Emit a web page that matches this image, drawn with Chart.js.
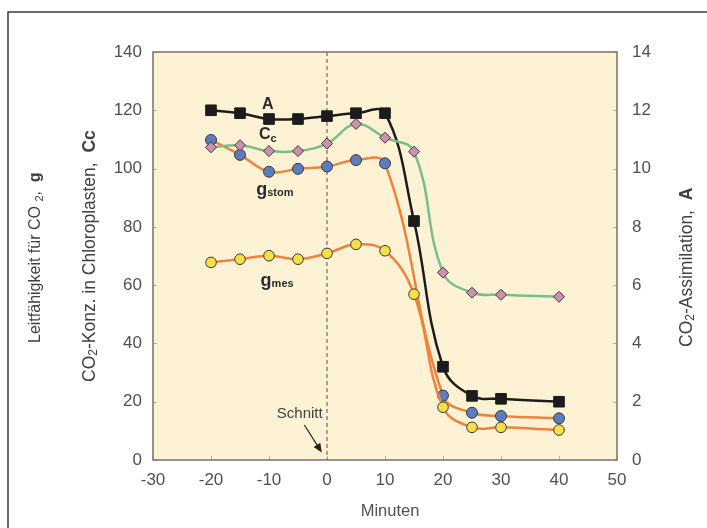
<!DOCTYPE html>
<html>
<head>
<meta charset="utf-8">
<script src="https://cdn.jsdelivr.net/npm/chart.js@4/dist/chart.umd.min.js"></script>
<style>
  html, body { margin: 0; padding: 0; background: #ffffff; }
  #wrap { position: relative; width: 707px; height: 528px; }
</style>
</head>
<body>
<div id="wrap"><canvas id="c" width="707" height="528"></canvas></div>
<script>
// Sampling times (minutes relative to the cut)
const minutes = [-20, -15, -10, -5, 0, 5, 10, 15, 20, 25, 30, 40];
// CO2 assimilation A (right axis, µmol m-2 s-1)
const assimilationA = [12.0, 11.9, 11.7, 11.7, 11.8, 11.9, 11.9, 8.2, 3.2, 2.2, 2.1, 2.0];
// Chloroplast CO2 concentration Cc (left axis)
const ccValues = [107.3, 108.0, 106.0, 106.0, 108.6, 115.3, 110.6, 105.8, 64.3, 57.4, 56.7, 56.0];
// Stomatal conductance g_stom (no sample at 15 min)
const gstomMinutes = [-20, -15, -10, -5, 0, 5, 10, 20, 25, 30, 40];
const gstomValues = [109.8, 104.7, 98.9, 99.9, 100.7, 102.9, 101.8, 22.1, 16.2, 15.1, 14.3];
// Mesophyll conductance g_mes
const gmesValues = [67.8, 68.9, 70.1, 68.9, 70.9, 74.0, 71.8, 56.9, 18.1, 11.2, 11.2, 10.3];
// Axis ranges / tick labels
const xTicks = [-30, -20, -10, 0, 10, 20, 30, 40, 50];
const leftTicks = [0, 20, 40, 60, 80, 100, 120, 140];
const rightTicks = [0, 2, 4, 6, 8, 10, 12, 14];

const pairs = (xs, ys) => xs.map((x, i) => ({ x, y: ys[i] }));

const FONT = '"Liberation Sans", Arial, sans-serif';
const TXT = '#505050';

// Draw a run of differently styled text pieces, optionally rotated
function drawRich(ctx, segs, x, y, opts) {
  opts = opts || {};
  ctx.save();
  ctx.translate(x, y);
  if (opts.rotate) ctx.rotate(opts.rotate);
  let total = 0;
  const widths = segs.map(s => { ctx.font = s.font; const w = ctx.measureText(s.text).width; total += w; return w; });
  let cx = opts.align === 'center' ? -total / 2 : (opts.align === 'right' ? -total : 0);
  ctx.textBaseline = 'middle';
  ctx.textAlign = 'left';
  segs.forEach((s, i) => {
    ctx.font = s.font;
    ctx.fillStyle = s.color || opts.color || TXT;
    ctx.fillText(s.text, cx, s.dy || 0);
    cx += widths[i];
  });
  ctx.restore();
}

const decor = {
  id: 'decor',
  beforeDraw(chart) {
    const { ctx, chartArea: a, scales } = chart;
    ctx.save();
    ctx.fillStyle = '#ffffff';
    ctx.fillRect(0, 0, chart.width, chart.height);
    // outer frame
    ctx.strokeStyle = '#3c3c3c';
    ctx.lineWidth = 1.5;
    ctx.beginPath();
    ctx.moveTo(8, chart.height);
    ctx.lineTo(8, 12);
    ctx.lineTo(chart.width, 12);
    ctx.stroke();
    // plot background
    ctx.fillStyle = '#fdf3d4';
    ctx.fillRect(a.left, a.top, a.right - a.left, a.bottom - a.top);
    // small inside tick marks
    ctx.strokeStyle = '#b8b0a0';
    ctx.lineWidth = 1;
    ctx.beginPath();
    xTicks.forEach(v => {
      const px = Math.round(scales.x.getPixelForValue(v)) + 0.5;
      ctx.moveTo(px, a.bottom); ctx.lineTo(px, a.bottom - 4);
    });
    leftTicks.forEach(v => {
      const py = Math.round(scales.y.getPixelForValue(v)) + 0.5;
      ctx.moveTo(a.left, py); ctx.lineTo(a.left + 4, py);
    });
    rightTicks.forEach(v => {
      const py = Math.round(scales.y1.getPixelForValue(v)) + 0.5;
      ctx.moveTo(a.right, py); ctx.lineTo(a.right - 4, py);
    });
    ctx.stroke();
    // dashed marker at the time of the cut
    const x0 = scales.x.getPixelForValue(0);
    ctx.strokeStyle = '#8a8580';
    ctx.lineWidth = 1.5;
    ctx.setLineDash([4, 3]);
    ctx.beginPath();
    ctx.moveTo(x0, a.top);
    ctx.lineTo(x0, a.bottom);
    ctx.stroke();
    ctx.setLineDash([]);
    ctx.restore();
  },
  afterDraw(chart) {
    const { ctx, chartArea: a, scales } = chart;
    const sx = scales.x, sy = scales.y;
    ctx.save();
    // plot border
    ctx.strokeStyle = '#7a7266';
    ctx.lineWidth = 1.5;
    ctx.strokeRect(a.left, a.top, a.right - a.left, a.bottom - a.top);

    // series labels
    const B = (s) => 'bold ' + s + 'px ' + FONT;
    drawRich(ctx, [{ text: 'A', font: B(16) }], sx.getPixelForValue(-10.2), sy.getPixelForValue(122.0), { align: 'center', color: '#2a2a2a' });
    drawRich(ctx, [{ text: 'C', font: B(16) }, { text: 'c', font: B(11), dy: 4 }], sx.getPixelForValue(-10.2), sy.getPixelForValue(111.5), { align: 'center', color: '#2a2a2a' });
    drawRich(ctx, [{ text: 'g', font: B(18) }, { text: 'stom', font: B(11), dy: 3 }], sx.getPixelForValue(-9.0), sy.getPixelForValue(92.5), { align: 'center', color: '#2a2a2a' });
    drawRich(ctx, [{ text: 'g', font: B(18) }, { text: 'mes', font: B(11), dy: 3 }], sx.getPixelForValue(-8.6), sy.getPixelForValue(61.3), { align: 'center', color: '#2a2a2a' });

    // "Schnitt" with arrow pointing at the cut
    drawRich(ctx, [{ text: 'Schnitt', font: '15px ' + FONT }], sx.getPixelForValue(-4.7), sy.getPixelForValue(15.8), { align: 'center', color: '#404040' });
    const ax0 = sx.getPixelForValue(-3.9), ay0 = sy.getPixelForValue(12.0);
    const ax1 = sx.getPixelForValue(-0.9), ay1 = sy.getPixelForValue(2.6);
    const ang = Math.atan2(ay1 - ay0, ax1 - ax0);
    ctx.strokeStyle = '#222';
    ctx.fillStyle = '#222';
    ctx.lineWidth = 1.2;
    ctx.beginPath();
    ctx.moveTo(ax0, ay0);
    ctx.lineTo(ax1 - 6 * Math.cos(ang), ay1 - 6 * Math.sin(ang));
    ctx.stroke();
    ctx.beginPath();
    ctx.moveTo(ax1, ay1);
    ctx.lineTo(ax1 - 9 * Math.cos(ang) + 4 * Math.sin(ang), ay1 - 9 * Math.sin(ang) - 4 * Math.cos(ang));
    ctx.lineTo(ax1 - 9 * Math.cos(ang) - 4 * Math.sin(ang), ay1 - 9 * Math.sin(ang) + 4 * Math.cos(ang));
    ctx.closePath();
    ctx.fill();

    // axis titles
    const R = (s) => s + 'px ' + FONT;
    const up = -Math.PI / 2;
    drawRich(ctx, [
      { text: 'Leitfähigkeit für CO ', font: R(16) },
      { text: '2', font: R(11), dy: 4 },
      { text: ',  ', font: R(16) },
      { text: 'g', font: B(16) }
    ], 36, 343, { rotate: up, color: '#404040' });
    drawRich(ctx, [
      { text: 'CO', font: R(17.5) },
      { text: '2', font: R(12), dy: 4 },
      { text: '-Konz. in Chloroplasten,  ', font: R(17.5) },
      { text: 'Cc', font: B(17.5) }
    ], 90, 382, { rotate: up, color: '#404040' });
    drawRich(ctx, [
      { text: 'CO', font: R(17.5) },
      { text: '2', font: R(12), dy: 4 },
      { text: '-Assimilation,  ', font: R(17.5) },
      { text: 'A', font: B(17.5) }
    ], 687, 347, { rotate: up, color: '#404040' });
    drawRich(ctx, [{ text: 'Minuten', font: R(16.5) }], 390, 511, { align: 'center', color: '#505050' });
    ctx.restore();
  }
};

const ptBorder = '#3a3a3a';
new Chart(document.getElementById('c'), {
  type: 'line',
  data: {
    datasets: [
      {
        label: 'Cc', data: pairs(minutes, ccValues), yAxisID: 'y',
        borderColor: '#79bd8a', borderWidth: 2.5, tension: 0.4,
        pointStyle: 'rectRot', pointRadius: 5.5, pointBackgroundColor: '#cf8fb0',
        pointBorderColor: ptBorder, pointBorderWidth: 1
      },
      {
        label: 'g_mes', data: pairs(minutes, gmesValues), yAxisID: 'y',
        borderColor: '#f0823e', borderWidth: 2.5, tension: 0.4,
        pointStyle: 'circle', pointRadius: 5.3, pointBackgroundColor: '#f6e044',
        pointBorderColor: ptBorder, pointBorderWidth: 1
      },
      {
        label: 'g_stom', data: pairs(gstomMinutes, gstomValues), yAxisID: 'y',
        borderColor: '#f0823e', borderWidth: 2.5, tension: 0.4,
        pointStyle: 'circle', pointRadius: 5.5, pointBackgroundColor: '#5b7dbd',
        pointBorderColor: ptBorder, pointBorderWidth: 1
      },
      {
        label: 'A', data: pairs(minutes, assimilationA), yAxisID: 'y1',
        borderColor: '#1c1c1c', borderWidth: 2.5, tension: 0.4,
        pointStyle: 'rect', pointRadius: 7.5, pointBackgroundColor: '#1c1c1c',
        pointBorderColor: '#1c1c1c', pointBorderWidth: 1
      }
    ]
  },
  options: {
    responsive: false,
    animation: false,
    devicePixelRatio: 1,
    layout: { padding: { top: 52, left: 0, right: 0, bottom: 0 } },
    plugins: { legend: { display: false }, tooltip: { enabled: false } },
    scales: {
      x: {
        type: 'linear', min: -30, max: 50,
        afterBuildTicks: s => { s.ticks = xTicks.map(v => ({ value: v })); },
        grid: { display: false, drawTicks: false }, border: { display: false },
        ticks: { font: { family: FONT, size: 17 }, color: TXT, padding: 10 },
        afterFit: s => { s.height = 68; }
      },
      y: {
        position: 'left', min: 0, max: 140,
        afterBuildTicks: s => { s.ticks = leftTicks.map(v => ({ value: v })); },
        grid: { display: false, drawTicks: false }, border: { display: false },
        ticks: { font: { family: FONT, size: 17 }, color: TXT, padding: 11 },
        afterFit: s => { s.width = 153; }
      },
      y1: {
        position: 'right', min: 0, max: 14,
        afterBuildTicks: s => { s.ticks = rightTicks.map(v => ({ value: v })); },
        grid: { display: false, drawTicks: false }, border: { display: false },
        ticks: { font: { family: FONT, size: 17 }, color: TXT, padding: 15 },
        afterFit: s => { s.width = 90; }
      }
    }
  },
  plugins: [decor]
});
</script>
</body>
</html>
